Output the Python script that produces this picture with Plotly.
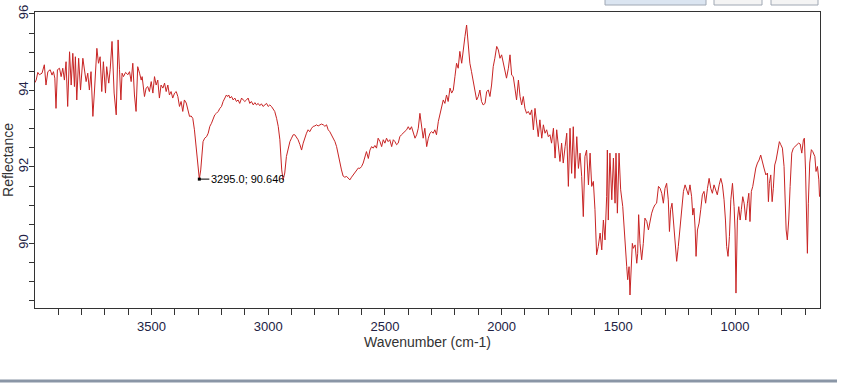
import plotly.graph_objects as go

# ---- data ----
wavenumber = [
 4000,3994,3987,3980,3969,3959,3952,3944,3934,3926,3920,3914,3909,3903,3894,3887,3880,3873,3866,3859,
 3851,3844,3837,3830,3826,3820,3812,3804,3794,3787,3780,3773,3766,3759,3751,3744,3734,3727,3720,3713,
 3706,3697,3692,3683,3677,3669,3660,3651,3643,3637,3631,3626,3620,3611,3601,3594,3587,3580,3573,3566,
 3559,3551,3544,3540,3530,3523,3516,3509,3501,3494,3487,3480,3473,3466,3459,3451,3444,3437,3430,3423,
 3416,3409,3401,3394,3387,3380,3373,3366,3359,3351,3344,3337,3330,3323,3316,3309,3302,3298,3295,
 3289,3284,3279,3272,3264,3257,3250,3243,3236,3229,3222,3214,3207,3200,3193,3186,3179,3174,3169,3164,
 3157,3150,3143,3136,3129,3122,3114,3107,3100,3093,3086,3079,3072,3064,3057,3050,3043,3036,3029,3022,
 3014,3007,3000,2993,2986,2979,2972,2964,2957,2950,2946,2942,2936,2929,2922,2914,2907,2900,2893,2886,
 2879,2872,2864,2857,2850,2843,2836,2829,2822,2814,2807,2800,2793,2786,2779,2772,2764,2757,2750,2743,
 2736,2729,2722,2714,2707,2700,2693,2686,2679,2672,2664,2657,2650,2643,2636,2629,2622,2614,
 2607,2600,2593,2586,2579,2571,2564,2557,2550,2543,2536,2529,2521,2514,2507,2500,2493,2486,2479,2471,
 2464,2457,2450,2443,2436,2429,2421,2414,2407,2400,2393,2386,2379,2371,2364,2357,2350,2343,2336,2329,
 2321,2314,2307,2300,2293,2286,2279,2271,2264,2257,2250,2243,2236,2229,2221,2214,2207,2200,2193,2186,
 2179,2171,2164,2157,2150,2143,2136,2129,2121,2114,2107,2100,2093,2086,2079,2071,2064,2057,2050,2043,
 2036,2029,2021,2014,2007,2000,1993,1986,1979,1971,1964,
 1957,1950,1943,1936,1928,1921,1914,1907,1900,1893,1886,1878,1871,1864,1857,1850,1843,1836,1828,1821,
 1814,1807,1800,1793,1786,1778,1771,1764,1757,1750,1743,1736,1728,1721,1714,1707,1700,1693,1686,1678,
 1671,1664,1657,1650,1643,1636,1628,1621,1614,1607,1600,1593,1586,1578,1571,1564,1557,1550,1547,1543,
 1536,1528,1521,1514,1510,1504,1497,1490,1481,1476,1470,1464,1460,1454,1450,1446,1440,1436,1428,1421,
 1417,1413,1407,1400,1393,1386,1378,1371,1364,1357,1350,1343,1336,1328,
 1321,1314,1307,1300,1293,1286,1281,1276,1270,1264,1260,1254,1250,1243,1236,1228,1221,1214,1207,1200,
 1193,1186,1181,1176,1171,1167,1161,1154,1147,1140,1133,1126,1118,1111,1104,1097,1090,1083,1076,1068,
 1061,1054,1047,1041,1036,1030,1024,1018,1011,1004,1000,996,990,984,978,973,967,961,954,947,
 941,936,930,924,918,911,904,897,890,883,876,868,861,857,853,847,841,836,830,824,
 817,810,804,797,790,786,781,776,770,764,757,750,743,736,728,721,714,707,703,698,
 694,690,686,680,673,667,658,653,647,641,638,
]
reflectance = [
 94.20,94.27,94.47,94.41,94.45,94.67,94.14,94.49,94.54,94.40,94.49,94.32,93.53,94.54,94.58,94.36,94.58,94.27,94.75,93.58,
 95.01,94.14,94.97,94.10,94.88,93.75,94.84,94.01,94.84,94.54,94.23,94.45,94.01,94.49,93.32,94.01,95.10,94.71,94.88,93.97,
 94.75,93.93,94.62,94.19,94.54,95.28,93.93,93.36,95.32,94.54,93.75,94.45,94.36,94.47,94.41,94.49,94.23,94.71,93.88,93.45,
 94.62,94.45,94.27,94.36,93.84,94.06,94.10,93.97,94.23,93.93,94.36,94.14,94.27,93.80,94.14,94.06,94.19,93.97,94.14,93.88,
 93.97,93.80,93.93,93.97,93.84,93.58,93.71,93.45,93.75,93.67,93.45,93.32,93.33,93.27,92.97,92.53,92.14,91.85,91.68,
 91.92,92.36,92.66,92.75,92.79,92.88,93.06,93.14,93.27,93.36,93.40,93.45,93.53,93.58,93.71,93.80,93.88,93.84,93.88,93.80,
 93.84,93.75,93.80,93.71,93.75,93.66,93.80,93.75,93.71,93.75,93.80,93.66,93.71,93.62,93.68,93.62,93.66,93.60,93.65,93.58,
 93.62,93.66,93.58,93.62,93.58,93.53,93.45,93.27,93.06,92.71,92.27,91.92,91.66,91.84,92.27,92.49,92.66,92.75,92.84,92.84,
 92.79,92.71,92.58,92.44,92.62,92.79,92.88,92.97,92.92,93.01,93.06,93.07,93.10,93.07,93.10,93.12,93.10,93.06,93.10,92.97,
 92.92,92.84,92.75,92.66,92.53,92.31,92.10,91.92,91.76,91.73,91.75,91.70,91.66,91.73,91.79,91.84,91.92,91.97,
 91.96,92.01,92.10,92.27,92.40,92.22,92.44,92.53,92.49,92.56,92.49,92.75,92.66,92.53,92.71,92.62,92.75,92.66,92.71,92.53,
 92.71,92.66,92.58,92.62,92.79,92.84,92.88,92.92,92.97,93.05,92.97,93.05,92.92,92.75,92.84,93.01,93.40,93.01,92.75,93.01,
 92.53,92.75,92.88,92.92,92.88,92.97,92.84,93.19,93.40,93.58,93.75,93.66,93.88,93.71,94.06,93.93,94.01,94.36,94.71,94.58,
 95.02,94.71,95.15,95.41,95.71,95.28,94.71,94.49,94.19,94.01,93.75,93.84,94.01,93.71,93.62,93.66,93.97,94.01,93.84,94.14,
 94.62,94.84,95.15,95.06,94.84,94.93,94.71,94.54,94.32,94.58,94.93,
 94.40,94.36,94.06,93.75,94.27,93.84,93.62,93.84,93.53,93.40,93.45,93.36,93.49,92.97,93.53,93.10,92.79,93.23,92.75,93.10,
 92.88,92.97,92.79,92.84,92.62,93.01,92.23,92.97,92.49,92.14,92.62,92.10,92.53,92.88,91.49,93.01,91.83,93.05,91.70,92.79,
 91.96,92.36,91.75,90.70,92.27,92.44,91.53,92.36,91.49,91.62,90.88,89.70,89.92,90.27,89.83,90.61,90.09,91.22,92.44,90.61,
 92.36,91.14,92.23,91.05,92.36,90.79,92.36,91.40,90.96,90.44,89.74,89.39,89.05,89.39,88.65,89.31,90.00,89.87,89.96,89.48,
 89.74,90.75,90.00,89.57,90.00,90.66,90.57,90.35,90.61,90.79,90.92,91.01,91.05,91.49,
 91.44,91.31,91.05,91.44,91.57,91.14,90.31,90.88,91.05,90.61,90.31,89.92,89.53,89.92,90.44,90.96,91.36,91.53,91.36,91.27,
 91.53,91.22,90.74,90.92,90.40,89.66,90.35,90.53,90.88,91.27,91.36,91.05,91.44,91.70,91.44,91.31,91.53,91.40,91.27,91.53,
 91.70,91.53,91.14,90.61,89.92,89.66,90.18,91.14,91.57,90.96,90.35,88.70,90.61,90.96,90.61,90.88,91.22,91.05,90.61,91.05,
 91.31,90.57,91.36,91.49,91.75,91.97,92.10,92.18,92.31,92.10,91.97,91.79,91.84,91.09,91.57,91.79,91.09,91.44,92.05,92.18,
 92.49,92.66,92.58,92.49,92.01,91.22,90.35,90.09,90.61,91.49,92.36,92.49,92.53,92.58,92.62,92.60,92.36,92.71,92.75,91.92,
 90.35,89.74,91.05,92.10,92.45,92.40,92.27,91.88,92.01,91.66,91.22,
]

peak_wn = [3295.0]
peak_val = [91.68]
peak_label = ["3295.0; 90.646"]

x_tick_vals = [3500, 3000, 2500, 2000, 1500, 1000]
x_tick_text = ["3500", "3000", "2500", "2000", "1500", "1000"]
y_tick_vals = [90, 92, 94, 96]
y_tick_text = ["90", "92", "94", "96"]

fig = go.Figure()
fig.add_trace(go.Scatter(x=wavenumber, y=reflectance, mode="lines",
                         line=dict(color="#c82424", width=1), hoverinfo="skip",
                         showlegend=False))
fig.add_trace(go.Scatter(x=peak_wn, y=peak_val, mode="markers",
                         marker=dict(symbol="square", size=3, color="black"),
                         showlegend=False))
fig.add_annotation(x=peak_wn[0], y=peak_val[0], text=peak_label[0],
                   showarrow=True, arrowhead=0, arrowwidth=1, arrowcolor="black",
                   ax=10, ay=0, xanchor="left", yanchor="middle",
                   font=dict(family="Liberation Sans, Arial", size=11, color="black"))

axis_font = dict(family="Liberation Sans, Arial", size=13, color="#222244")

fig.update_layout(
    width=849, height=387,
    margin=dict(l=35, r=29, t=12, b=79, autoexpand=False),
    paper_bgcolor="white", plot_bgcolor="white",
    xaxis=dict(range=[3999, 636], tickmode="array", tickvals=x_tick_vals, ticktext=x_tick_text,
               ticks="outside", ticklen=6, tickcolor="#333", tickfont=axis_font,
               minor=dict(dtick=100, tick0=0, ticks="outside", ticklen=6, tickcolor="#333"),
               showgrid=False, zeroline=False, showline=True, linecolor="#333", linewidth=1,
               mirror=True, automargin=False,
               title=dict(text="Wavenumber (cm-1)", standoff=2,
                          font=dict(family="Liberation Sans, Arial", size=14, color="#333"))),
    yaxis=dict(range=[88.31, 96.05], tickmode="array", tickvals=y_tick_vals, ticktext=y_tick_text,
               tickangle=-90, ticks="outside", ticklen=5, tickcolor="#333", tickfont=axis_font,
               ticklabelstandoff=-4,
               minor=dict(dtick=0.5, tick0=0, ticks="outside", ticklen=5, tickcolor="#333"),
               showgrid=False, zeroline=False, showline=True, linecolor="#333", linewidth=1,
               mirror=True, automargin=False,
               title=dict(text="Reflectance", standoff=0,
                          font=dict(family="Liberation Sans, Arial", size=14, color="#333"))),
)

# interface widgets around the chart (buttons above, status bar below)
def px2paper_x(px):
    return (px - 35) / 785.0

def px2paper_y(py):
    return (308 - py) / 296.0

for (x0, x1, fill) in [(605, 706, "#dbe5f1"), (714, 762, "#f4f4f4"), (771, 818, "#f4f4f4")]:
    fig.add_shape(type="rect", xref="paper", yref="paper",
                  x0=px2paper_x(x0), x1=px2paper_x(x1), y0=px2paper_y(5), y1=px2paper_y(-3),
                  line=dict(color="#a0a8b4", width=1), fillcolor=fill)
fig.add_shape(type="line", xref="paper", yref="paper",
              x0=px2paper_x(0), x1=px2paper_x(837), y0=px2paper_y(381), y1=px2paper_y(381),
              line=dict(color="#8a96a6", width=3))

fig.write_html("out.html")
